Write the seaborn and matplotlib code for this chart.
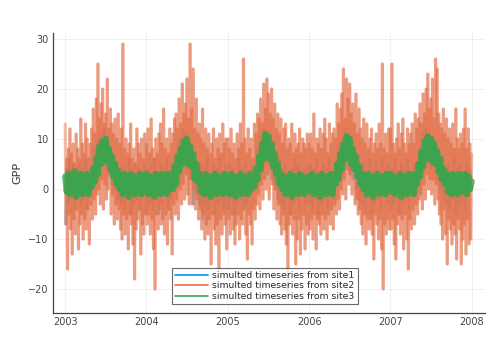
import numpy as np
import pandas as pd
import matplotlib
matplotlib.use("Agg")
import matplotlib.pyplot as plt
import seaborn as sns

# ---- GPP values (approximate) ----
years = [2003, 2004, 2005, 2006, 2007]
tick_labels = ["2003", "2004", "2005", "2006", "2007", "2008"]
series_names = ["simulted timeseries from site1",
                "simulted timeseries from site2",
                "simulted timeseries from site3"]

# site2: two samples per week
site2_2003 = [13, -7, 6, -16, 8, -5, 12, -8, 7, -13, 9, -6, 5,
              -9, 11, -4, 8, -12, 6, -7, 14, -5, 9, -10, 7, -6,
              13, -8, 10, -4, 6, -11, 9, -3, 12, -6, 16, -2, 11,
              -5, 18, -1, 25, 0, 14, -3, 17, 2, 20, -4, 13, 1,
              15, -2, 22, 0, 12, 3, 16, -5, 13, -1, 11, -7, 14,
              -3, 10, -6, 15, -4, 9, -8, 12, -10, 29, -5, 8, -9,
              10, -6, 7, -12, 9, -5, 13, -7, 6, -11, 8, -18, 5,
              -8, 12, -6, 9, -4, 7, -13, 10, -7, 6, -9, 11, -5]
site2_2004 = [9, -7, 12, -5, 7, -9, 14, -6, 8, -12, 6, -20, 10,
              -5, 7, -8, 11, -4, 13, -7, 9, -6, 16, -9, 8, -5,
              10, -11, 7, -4, 12, -6, 9, -13, 11, -3, 14, -5, 15,
              -2, 12, -6, 18, 0, 13, -3, 21, 1, 15, -2, 17, 3,
              22, -1, 14, -3, 29, 2, 16, -3, 24, 0, 12, -4, 18,
              -2, 11, -6, 13, -4, 10, -8, 16, -5, 9, -10, 12, -7,
              8, -9, 11, -6, 7, -15, 9, -5, 12, -8, 6, -11, 10,
              -7, 8, -16, 11, -6, 7, -9, 13, -5, 9, -7, 10, -12]
site2_2005 = [10, -6, 8, -9, 12, -5, 7, -8, 9, -11, 6, -7, 11,
              -5, 8, -10, 13, -6, 9, -7, 26, -4, 10, -9, 7, -14,
              12, -5, 8, -7, 10, -11, 6, -4, 13, -6, 11, -3, 15,
              -1, 14, -4, 18, 1, 13, -2, 21, 2, 16, 0, 22, 3,
              19, -2, 15, 4, 20, 1, 14, -4, 17, 0, 12, -6, 15,
              -3, 11, -7, 14, -9, 9, -5, 12, -8, 13, -11, 8, -21,
              10, -7, 9, -5, 13, -9, 7, -6, 11, -15, 8, -10, 9,
              -6, 12, -13, 7, -8, 10, -5, 9, -12, 8, -7, 11, -9]
site2_2006 = [9, -8, 11, -6, 8, -10, 15, -5, 7, -12, 10, -6, 9,
              -7, 12, -9, 8, -5, 11, -8, 14, -6, 10, -10, 7, -5,
              13, -7, 9, -4, 11, -8, 12, -3, 10, -5, 17, -2, 13,
              -4, 16, 0, 19, -1, 24, 2, 14, -2, 22, 4, 18, 1,
              21, 3, 15, -1, 17, 5, 13, -3, 19, -2, 11, -5, 16,
              -4, 12, -7, 10, -9, 14, -5, 9, -11, 13, -6, 8, -8,
              10, -6, 12, -9, 7, -14, 9, -5, 11, -7, 8, -10, 13,
              -6, 9, -12, 25, -20, 8, -7, 11, -9, 7, -6, 12, -8]
site2_2007 = [12, -8, 25, -6, 9, -11, 7, -14, 10, -7, 13, -5, 8,
              -9, 11, -6, 14, -12, 9, -5, 7, -10, 12, -16, 9, -6,
              11, -8, 13, -4, 9, -7, 15, -3, 12, -5, 14, -2, 17,
              -1, 13, -4, 19, 1, 15, -2, 20, 3, 23, 0, 16, 2,
              18, -1, 22, 2, 14, -3, 26, 1, 24, -2, 15, -5, 13,
              -7, 12, -10, 16, -4, 11, -9, 14, -15, 10, -6, 12, -8,
              9, -11, 13, -7, 8, -9, 16, -14, 10, -6, 8, -8, 11,
              -15, 9, -10, 12, -7, 16, -13, 8, -6, 12, -11, 9, -10]

# site3 and site1: one sample per week
site3_2003 = [2.5, -0.5, 3, -1, 2, 0, 3.5, -1.5, 2, -0.5, 3, -1, 2.5, 0, 3, -1, 2, 0.5,
              4, 1.5, 6, 3, 8.5, 5, 9.5, 6, 10, 5.5, 8, 4, 6.5, 2.5, 5, 1, 3.5, 0,
              2.5, -1, 3, -0.5, 2, -1.5, 3, 0, 2.5, -1, 2, -0.5, 3, -1, 2.5, 0]
site3_2004 = [3, -1, 2.5, -0.5, 2, -1.5, 3, 0, 2.5, -1, 3, -0.5, 2, -1, 3, 0, 2.5, 0,
              4.5, 1, 6.5, 3.5, 8, 5, 9.5, 6.5, 10, 5, 8.5, 4.5, 7, 2, 5, 1.5, 3, -0.5,
              2, -1, 3, 0, 2.5, -1.5, 2, -0.5, 3, -1, 2.5, 0, 2, -1, 3, -0.5]
site3_2005 = [2, -1, 3, -0.5, 2.5, -1.5, 2, 0, 3, -1, 2.5, -0.5, 2, -1, 3, 0, 2.5, 0.5,
              4, 2, 6.5, 4, 9, 6, 11, 7, 10.5, 6, 9, 4.5, 7, 3, 5, 1, 3, 0,
              2.5, -1, 2, -0.5, 3, -1.5, 2.5, 0, 2, -1, 3, -0.5, 2.5, -1, 2, 0]
site3_2006 = [2.5, -0.5, 3, -1, 2, 0, 2.5, -1.5, 3, -0.5, 2, -1, 2.5, 0, 3, -1, 2.5, 1,
              5, 2, 7, 4, 9, 6, 10.5, 6.5, 10, 5, 8, 4, 6.5, 2.5, 4.5, 1, 3, 0,
              2.5, -1, 3, -0.5, 2, -1.5, 2.5, 0, 3, -1, 2, -0.5, 2.5, -1, 3, 0]
site3_2007 = [3, -0.5, 2.5, -1, 2, 0, 3, -1.5, 2.5, -0.5, 2, -1, 3, 0, 2.5, -1, 3, 1,
              5, 2.5, 7.5, 4.5, 9.5, 6, 10.5, 6.5, 10, 5.5, 9, 5, 7.5, 3.5, 6, 2, 4, 1,
              3, -0.5, 2.5, -1, 3, 0, 2, -1, 3, -0.5, 2.5, 0, 3, -1, 2.5, 0]

site1_2003 = [-7, 4, -3, 6, -2, 5, -4, 3, -1, 5, -3, 4, -2, 6, -4, 3, 0, 5,
              2, 8, 4, 10, 6, 11, 5, 12, 4, 10, 3, 8, 1, 6, 0, 5, -2, 4,
              -3, 5, -4, 3, -2, 6, -5, 4, -3, 5, -2, 4, -4, 3, -1, 5]
site1_2004 = [-5, 4, -3, 5, -4, 6, -2, 3, -5, 5, -3, 4, -1, 6, -4, 3, -2, 5,
              2, 7, 3, 10, 5, 12, 6, 11, 4, 9, 2, 8, -3, 6, -1, 4, -3, 5,
              -6, 4, -3, 6, -4, 3, -2, 5, -5, 4, -3, 6, -2, 3, -4, 5]
site1_2005 = [-4, 5, -2, 4, -5, 3, -3, 6, -2, 4, -4, 5, -3, 3, -1, 5, 0, 4,
              3, 8, 4, 11, 6, 12, 7, 10, 5, 9, 2, 7, 1, 5, -2, 6, -3, 4,
              -4, 5, -2, 3, -5, 4, -3, 6, -2, 5, -4, 3, -1, 4, -3, 5]
site1_2006 = [-3, 5, -4, 4, -2, 6, -5, 3, -3, 5, -2, 4, -4, 6, -1, 3, -2, 5,
              2, 9, 4, 10, 6, 12, 5, 11, 3, 9, 2, 7, 0, 6, -2, 4, -3, 5,
              -4, 3, -2, 6, -5, 4, -3, 5, -2, 3, -4, 6, -1, 4, -3, 5]
site1_2007 = [-4, 4, -3, 6, -2, 3, -5, 5, -3, 4, -2, 6, -4, 3, -1, 5, 0, 4,
              3, 8, 5, 11, 6, 12, 5, 10, 4, 9, 6, 8, 2, 7, 0, 5, -2, 4,
              -3, 5, -4, 3, -2, 6, -5, 4, -3, 5, -2, 3, -4, 5, -1, 4]
end_values = [2, 7, 1.5]   # value on 2008-01-01 for site1, site2, site3
sample_step = ["7D", "84h", "7D"]

site1 = [site1_2003, site1_2004, site1_2005, site1_2006, site1_2007]
site2 = [site2_2003, site2_2004, site2_2005, site2_2006, site2_2007]
site3 = [site3_2003, site3_2004, site3_2005, site3_2006, site3_2007]


def to_frame(per_year, end, step):
    d, v = [], []
    for y, vals in zip(years, per_year):
        d.extend(pd.date_range(f"{y}-01-01", periods=len(vals), freq=step))
        v.extend(vals)
    d.append(pd.Timestamp("2008-01-01"))
    v.append(end)
    return pd.DataFrame({"date": d, "GPP": v})


def to_segments(frame):
    # every step drawn as its own short stroke so that overlaps darken
    n = len(frame)
    a = frame.iloc[:-1].reset_index(drop=True).assign(seg=np.arange(n - 1))
    b = frame.iloc[1:].reset_index(drop=True).assign(seg=np.arange(n - 1))
    return pd.concat([a, b]).sort_values(["seg", "date"]).reset_index(drop=True)


frames = [to_frame(s, e, st) for s, e, st in
          zip([site1, site2, site3], end_values, sample_step)]
colors = ["#009AFA", "#E36F47", "#3EA44E"]

sns.set_style("white")
plt.rcParams["font.family"] = ["DejaVu Sans"]

fig = plt.figure(figsize=(5.0, 3.56), dpi=100)
ax = fig.add_axes([0.106, 0.121, 0.864, 0.786])

# site1 (underneath)
sns.lineplot(data=to_segments(frames[0]), x="date", y="GPP", units="seg",
             estimator=None, color=colors[0], lw=2.0, alpha=0.3, ax=ax)
# site2
sns.lineplot(data=to_segments(frames[1]), x="date", y="GPP", units="seg",
             estimator=None, color=colors[1], lw=2.3, alpha=0.44, ax=ax)
# site3
sns.lineplot(data=to_segments(frames[2]), x="date", y="GPP", units="seg",
             estimator=None, color=colors[2], lw=4.6, alpha=0.78, ax=ax)

ax.set_ylim(-24.8, 31.2)
ax.set_xlim(pd.Timestamp("2002-11-07"), pd.Timestamp("2008-03-01"))
ax.set_yticks([-20, -10, 0, 10, 20, 30])
ax.set_xticks([pd.Timestamp(f"{t}-01-01") for t in tick_labels])
ax.set_xticklabels(tick_labels)
ax.set_xlabel("")
ax.set_ylabel("GPP", fontsize=8, color="#333333")
ax.grid(True, color="#000000", alpha=0.07, lw=0.6)
for s in ["top", "right"]:
    ax.spines[s].set_visible(False)
for s in ["left", "bottom"]:
    ax.spines[s].set_color("#444444")
    ax.spines[s].set_linewidth(0.9)
ax.tick_params(axis="both", direction="in", length=2.5, width=0.6,
               labelsize=7, colors="#444444", labelcolor="#444444", pad=3)

handles = [plt.Line2D([], [], color=c, lw=1.2) for c in colors]
leg = ax.legend(handles, series_names, loc="lower center",
                bbox_to_anchor=(0.49, 0.015), fontsize=6.7,
                frameon=True, fancybox=False, edgecolor="#444444",
                handlelength=3.5, borderpad=0.35, labelspacing=0.15,
                handletextpad=0.5)
leg.get_frame().set_linewidth(0.8)

fig.savefig("out.png", dpi=100)
